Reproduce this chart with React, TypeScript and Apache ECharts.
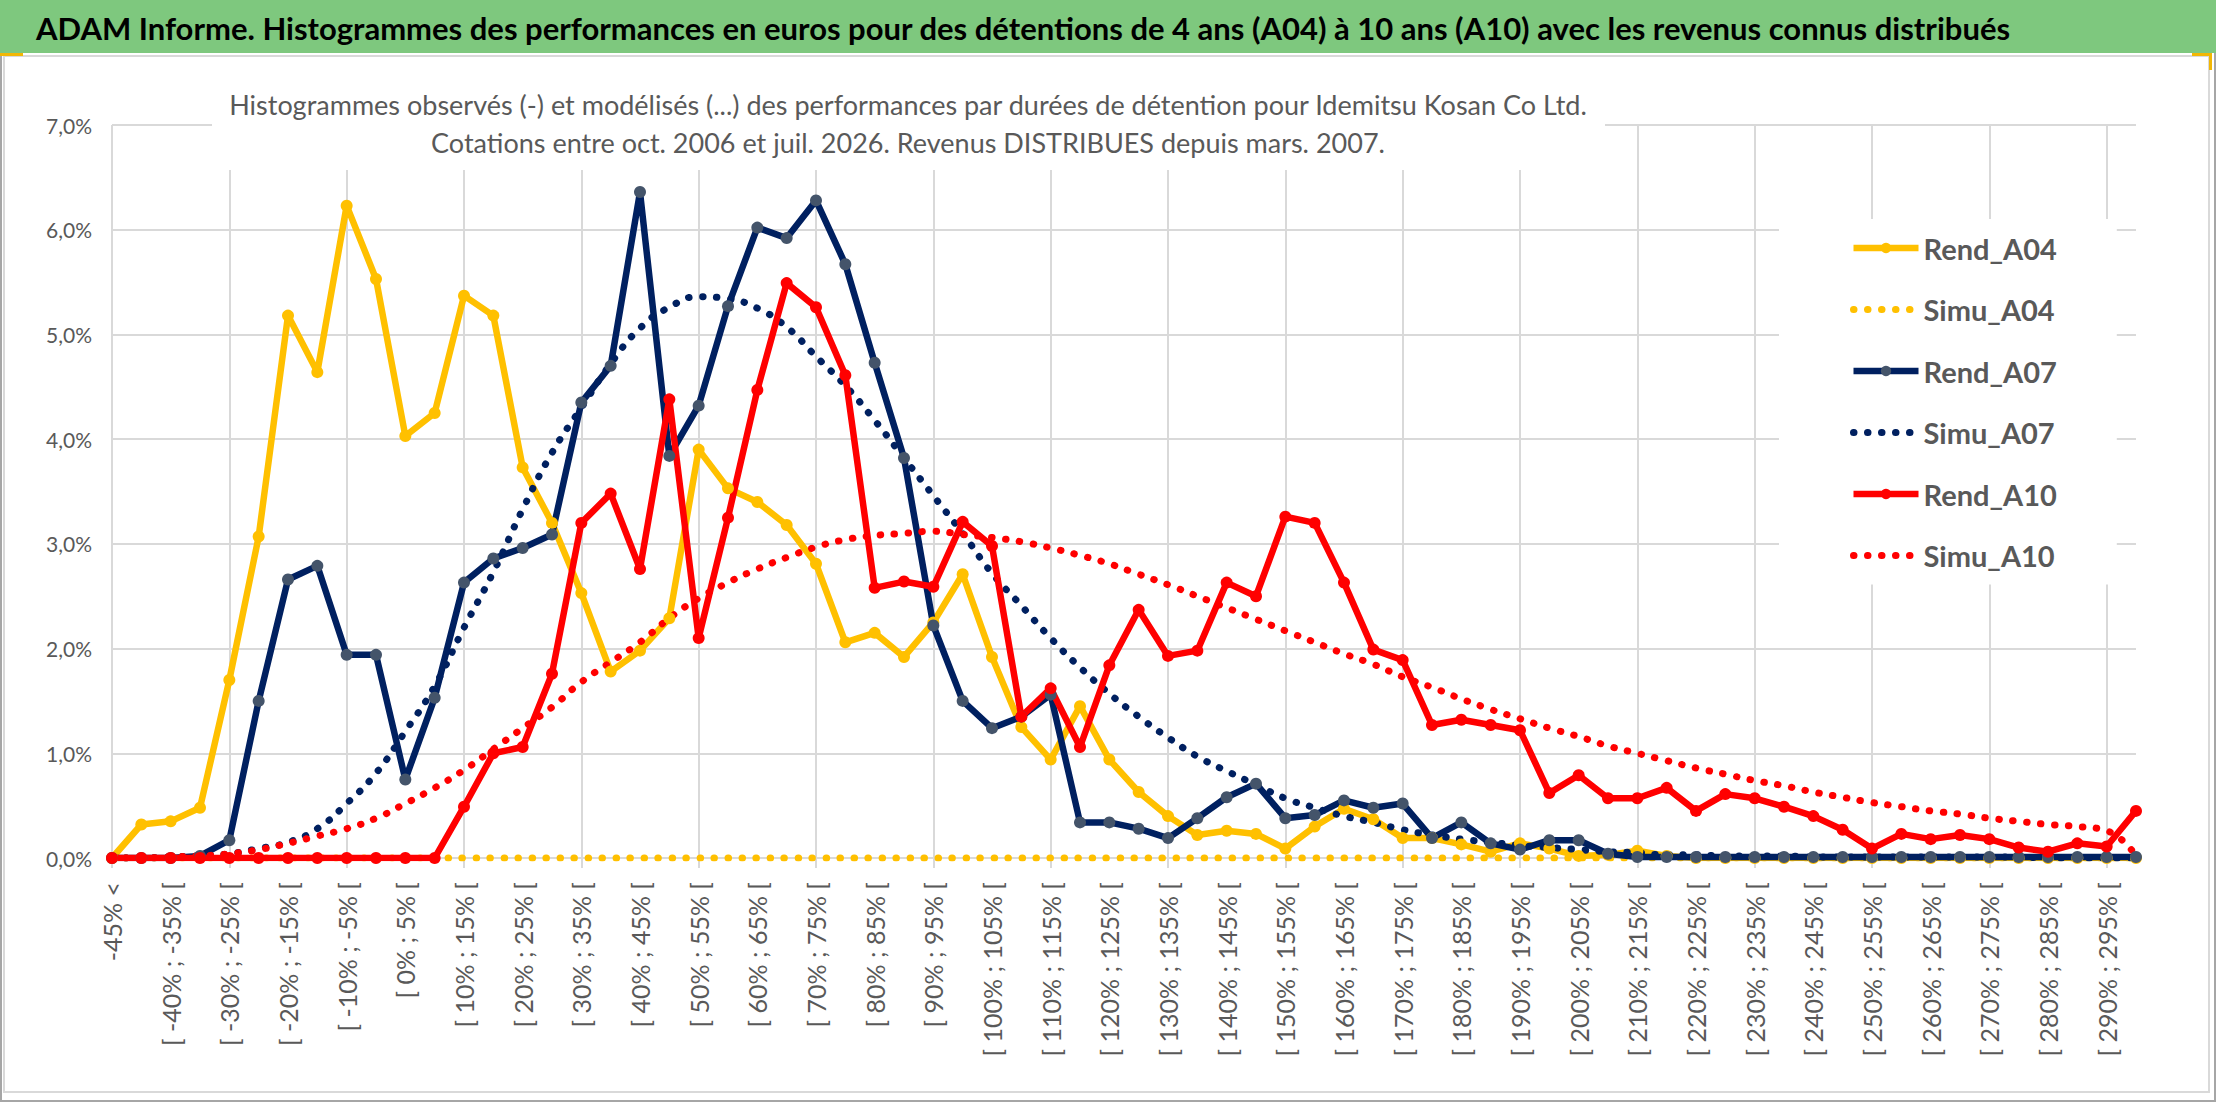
import React, { useEffect, useRef } from "react";
import * as echarts from "echarts";

const BANNER =
  "ADAM Informe. Histogrammes des performances en euros pour des détentions de 4 ans (A04) à 10 ans (A10) avec les revenus connus distribués";
const SUB1 =
  "Histogrammes observés (-) et modélisés (...) des performances par durées de détention pour Idemitsu Kosan Co Ltd.";
const SUB2 = "Cotations entre oct. 2006 et juil. 2026. Revenus DISTRIBUES depuis mars. 2007.";

const CATEGORIES = [
  "-45% <", "[ -45% ; -40% [", "[ -40% ; -35% [", "[ -35% ; -30% [", "[ -30% ; -25% [",
  "[ -25% ; -20% [", "[ -20% ; -15% [", "[ -15% ; -10% [", "[ -10% ; -5% [", "[ -5% ; 0% [",
  "[ 0% ; 5% [", "[ 5% ; 10% [", "[ 10% ; 15% [", "[ 15% ; 20% [", "[ 20% ; 25% [",
  "[ 25% ; 30% [", "[ 30% ; 35% [", "[ 35% ; 40% [", "[ 40% ; 45% [", "[ 45% ; 50% [",
  "[ 50% ; 55% [", "[ 55% ; 60% [", "[ 60% ; 65% [", "[ 65% ; 70% [", "[ 70% ; 75% [",
  "[ 75% ; 80% [", "[ 80% ; 85% [", "[ 85% ; 90% [", "[ 90% ; 95% [", "[ 95% ; 100% [",
  "[ 100% ; 105% [", "[ 105% ; 110% [", "[ 110% ; 115% [", "[ 115% ; 120% [", "[ 120% ; 125% [",
  "[ 125% ; 130% [", "[ 130% ; 135% [", "[ 135% ; 140% [", "[ 140% ; 145% [", "[ 145% ; 150% [",
  "[ 150% ; 155% [", "[ 155% ; 160% [", "[ 160% ; 165% [", "[ 165% ; 170% [", "[ 170% ; 175% [",
  "[ 175% ; 180% [", "[ 180% ; 185% [", "[ 185% ; 190% [", "[ 190% ; 195% [", "[ 195% ; 200% [",
  "[ 200% ; 205% [", "[ 205% ; 210% [", "[ 210% ; 215% [", "[ 215% ; 220% [", "[ 220% ; 225% [",
  "[ 225% ; 230% [", "[ 230% ; 235% [", "[ 235% ; 240% [", "[ 240% ; 245% [", "[ 245% ; 250% [",
  "[ 250% ; 255% [", "[ 255% ; 260% [", "[ 260% ; 265% [", "[ 265% ; 270% [", "[ 270% ; 275% [",
  "[ 275% ; 280% [", "[ 280% ; 285% [", "[ 285% ; 290% [", "[ 290% ; 295% [", "[ 295% ; 300% [",
];

// valeurs en %
const REND_A04 = [
  0, 0.32, 0.35, 0.48, 1.7, 3.07, 5.18, 4.64, 6.23, 5.53,
  4.03, 4.25, 5.37, 5.18, 3.73, 3.2, 2.53, 1.78, 1.98, 2.29,
  3.9, 3.53, 3.4, 3.18, 2.81, 2.06, 2.15, 1.92, 2.25, 2.71,
  1.92, 1.25, 0.94, 1.45, 0.94, 0.63, 0.4, 0.22, 0.26, 0.23,
  0.09, 0.3, 0.47, 0.37, 0.19, 0.19, 0.13, 0.06, 0.14, 0.09,
  0.02, 0.03, 0.07, 0.02, 0, 0, 0, 0, 0, 0,
  0, 0, 0, 0, 0, 0, 0, 0, 0, 0,
];
const SIMU_A04 = [
  0, 0, 0, 0, 0, 0, 0, 0, 0, 0,
  0, 0, 0, 0, 0, 0, 0, 0, 0, 0,
  0, 0, 0, 0, 0, 0, 0, 0, 0, 0,
  0, 0, 0, 0, 0, 0, 0, 0, 0, 0,
  0, 0, 0, 0, 0, 0, 0, 0, 0, 0,
  0, 0, 0, 0, 0, 0, 0, 0, 0, 0,
  0, 0, 0, 0, 0, 0, 0, 0, 0, 0,
];
const REND_A07 = [
  0, 0, 0, 0.02, 0.17, 1.5, 2.66, 2.79, 1.94, 1.94,
  0.75, 1.53, 2.63, 2.86, 2.96, 3.09, 4.35, 4.7, 6.36, 3.84,
  4.32, 5.27, 6.02, 5.92, 6.28, 5.67, 4.73, 3.82, 2.22, 1.5,
  1.24, 1.35, 1.56, 0.34, 0.34, 0.28, 0.19, 0.38, 0.58, 0.71,
  0.38, 0.41, 0.55, 0.48, 0.52, 0.19, 0.34, 0.14, 0.08, 0.17,
  0.17, 0.04, 0.01, 0.01, 0.01, 0.01, 0.01, 0.01, 0.01, 0.01,
  0.01, 0.01, 0.01, 0.01, 0.01, 0.01, 0.01, 0.01, 0.01, 0.01,
];
const SIMU_A07 = [
  0, 0, 0.01, 0.02, 0.04, 0.09, 0.15, 0.28, 0.52, 0.81,
  1.21, 1.64, 2.2, 2.73, 3.33, 3.87, 4.3, 4.72, 5.06, 5.26,
  5.36, 5.34, 5.25, 5.07, 4.79, 4.51, 4.18, 3.82, 3.46, 3.1,
  2.72, 2.41, 2.1, 1.82, 1.57, 1.35, 1.15, 0.97, 0.83, 0.7,
  0.57, 0.48, 0.4, 0.34, 0.27, 0.22, 0.18, 0.15, 0.12, 0.1,
  0.08, 0.06, 0.05, 0.03, 0.03, 0.02, 0.02, 0.02, 0.01, 0.01,
  0.01, 0.01, 0.01, 0.01, 0.01, 0.01, 0, 0, 0, 0,
];
const REND_A10 = [
  0, 0, 0, 0, 0, 0, 0, 0, 0, 0,
  0, 0, 0.49, 1.0, 1.06, 1.76, 3.2, 3.48, 2.76, 4.38,
  2.1, 3.25, 4.47, 5.49, 5.26, 4.61, 2.58, 2.64, 2.59, 3.21,
  2.98, 1.35, 1.62, 1.06, 1.84, 2.37, 1.93, 1.98, 2.63, 2.5,
  3.26, 3.2, 2.63, 1.99, 1.89, 1.27, 1.32, 1.27, 1.22, 0.62,
  0.79, 0.57, 0.57, 0.67, 0.45, 0.61, 0.57, 0.49, 0.4, 0.27,
  0.09, 0.23, 0.18, 0.22, 0.18, 0.1, 0.06, 0.14, 0.11, 0.45,
];
const SIMU_A10 = [
  0, 0, 0.01, 0.02, 0.04, 0.08, 0.14, 0.21, 0.28, 0.38,
  0.52, 0.67, 0.84, 1.04, 1.24, 1.44, 1.68, 1.87, 2.06, 2.29,
  2.48, 2.63, 2.76, 2.87, 2.97, 3.04, 3.08, 3.1, 3.12, 3.09,
  3.06, 3.02, 2.96, 2.89, 2.81, 2.71, 2.61, 2.5, 2.39, 2.28,
  2.17, 2.06, 1.95, 1.85, 1.73, 1.63, 1.52, 1.42, 1.33, 1.24,
  1.16, 1.07, 1.0, 0.93, 0.86, 0.8, 0.74, 0.69, 0.63, 0.58,
  0.53, 0.49, 0.45, 0.42, 0.38, 0.35, 0.32, 0.3, 0.26, 0.02,
];

const JAUNE = "#FFC000";
const MARINE = "#002060";
const ROUGE = "#FF0000";
const GRIS = "#595959";
const GRILLE = "#D9D9D9";
const FONT = "Lato, 'Open Sans', sans-serif";

const rend = (name: string, data: number[], color: string, marker: string) => ({
  name,
  type: "line",
  data,
  symbol: "circle",
  symbolSize: 12,
  lineStyle: { color, width: 6.5 },
  itemStyle: { color: marker },
});

const simu = (name: string, data: number[], color: string) => ({
  name,
  type: "line",
  data,
  smooth: true,
  symbol: "none",
  lineStyle: { color, width: 7, type: [0.5, 13.5], cap: "round" },
  itemStyle: { color },
});

const App: React.FC = () => {
  const chartRef = useRef<HTMLDivElement | null>(null);

  useEffect(() => {
    if (!chartRef.current) return;
    const chart = echarts.init(chartRef.current, undefined, { renderer: "svg" });

    // pas de rond au centre des icônes de légende pour les courbes modélisées
    const sansRond = { itemStyle: { opacity: 0 } };

    const option: any = {
      animation: false,
      backgroundColor: "#ffffff",
      grid: { left: 112, right: 80, top: 125, bottom: 244, containLabel: false },
      xAxis: {
        type: "category",
        data: CATEGORIES,
        boundaryGap: false,
        axisLine: { lineStyle: { color: GRILLE, width: 2 } },
        axisTick: { show: true, interval: 3, length: 10, lineStyle: { color: GRILLE, width: 2 } },
        axisLabel: {
          interval: 1,
          rotate: 90,
          margin: 24,
          color: GRIS,
          fontSize: 25,
          fontFamily: FONT,
        },
        splitLine: { show: true, interval: 3, lineStyle: { color: GRILLE, width: 2 } },
      },
      yAxis: {
        type: "value",
        min: 0,
        max: 7,
        interval: 1,
        axisLine: { show: false },
        axisTick: { show: false },
        axisLabel: {
          margin: 20,
          color: GRIS,
          fontSize: 21,
          fontFamily: FONT,
          formatter: (v: number) => v.toFixed(1).replace(".", ",") + "%",
        },
        splitLine: { lineStyle: { color: GRILLE, width: 2 } },
      },
      legend: {
        orient: "vertical",
        left: 1779,
        top: 219,
        padding: [13, 60, 13, 71],
        backgroundColor: "#ffffff",
        itemWidth: 65,
        itemHeight: 13,
        itemGap: 29.5,
        lineStyle: { width: "inherit" },
        textStyle: { color: GRIS, fontSize: 29, fontWeight: "bold", fontFamily: FONT, lineHeight: 32 },
        data: [
          { name: "Rend_A04" },
          { name: "Simu_A04", ...sansRond },
          { name: "Rend_A07" },
          { name: "Simu_A07", ...sansRond },
          { name: "Rend_A10" },
          { name: "Simu_A10", ...sansRond },
        ],
      },
      series: [
        rend("Rend_A04", REND_A04, JAUNE, JAUNE),
        simu("Simu_A04", SIMU_A04, JAUNE),
        rend("Rend_A07", REND_A07, MARINE, "#44546A"),
        simu("Simu_A07", SIMU_A07, MARINE),
        rend("Rend_A10", REND_A10, ROUGE, ROUGE),
        simu("Simu_A10", SIMU_A10, ROUGE),
      ],
      graphic: [
        // cadre
        { type: "rect", z: 20, silent: true, shape: { x: 1, y: 1, width: 2214, height: 1100 }, style: { fill: "none", stroke: "#A6A6A6", lineWidth: 2 } },
        { type: "rect", z: 20, silent: true, shape: { x: 4, y: 56, width: 2205, height: 1036 }, style: { fill: "none", stroke: GRILLE, lineWidth: 2 } },
        // bandeau vert
        { type: "rect", z: 20, silent: true, shape: { x: 0, y: 0, width: 2216, height: 53 }, style: { fill: "#7EC87E" } },
        {
          type: "text", z: 21, silent: true, x: 36, y: 28,
          style: { text: BANNER, fill: "#000000", fontSize: 31, fontWeight: "bold", fontFamily: FONT, verticalAlign: "middle" },
        },
        { type: "rect", z: 21, silent: true, shape: { x: 0, y: 53, width: 23, height: 3 }, style: { fill: "#F2B705" } },
        { type: "rect", z: 21, silent: true, shape: { x: 2192, y: 53, width: 20, height: 3 }, style: { fill: "#F2B705" } },
        { type: "rect", z: 21, silent: true, shape: { x: 2209, y: 53, width: 3, height: 17 }, style: { fill: "#F2B705" } },
        // titre du graphique
        { type: "rect", z: 1, silent: true, shape: { x: 212, y: 80, width: 1393, height: 90 }, style: { fill: "#ffffff" } },
        {
          type: "text", z: 2, silent: true, x: 908, y: 104,
          style: { text: SUB1, fill: GRIS, fontSize: 27, fontFamily: FONT, align: "center", verticalAlign: "middle" },
        },
        {
          type: "text", z: 2, silent: true, x: 908, y: 142,
          style: { text: SUB2, fill: GRIS, fontSize: 27, fontFamily: FONT, align: "center", verticalAlign: "middle" },
        },
      ],
    };

    chart.setOption(option);
    return () => {
      chart.dispose();
    };
  }, []);

  return (
    <div
      ref={chartRef}
      style={{ position: "fixed", left: 0, top: 0, width: "2216px", height: "1102px" }}
    />
  );
};

export default App;
